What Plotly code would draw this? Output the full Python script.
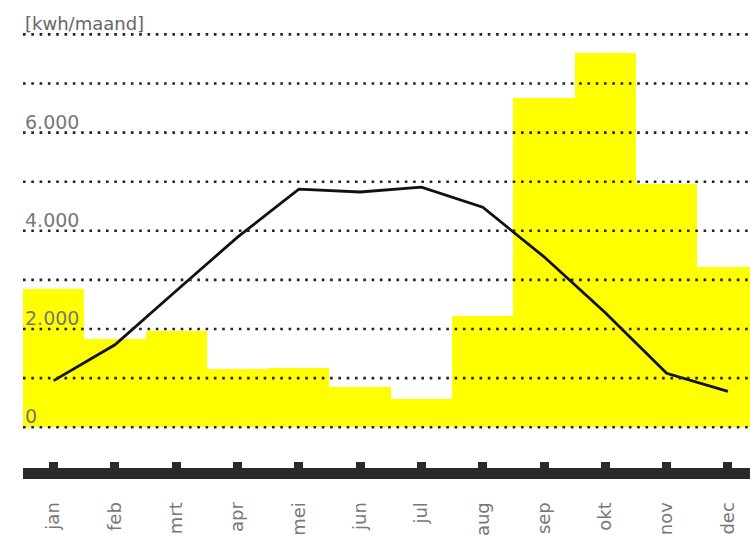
import plotly.graph_objects as go

months = ["jan", "feb", "mrt", "apr", "mei", "jun", "jul", "aug", "sep", "okt", "nov", "dec"]
bar_values = [2820, 1790, 1970, 1180, 1200, 810, 570, 2270, 6710, 7630, 4950, 3265]
line_values = [950, 1680, 2780, 3870, 4850, 4790, 4890, 4480, 3470, 2330, 1100, 730]
grid_values = [0, 1000, 2000, 3000, 4000, 5000, 6000, 7000, 8000]
label_values = [0, 2000, 4000, 6000]
label_texts = ["0", "2.000", "4.000", "6.000"]
unit_text = "[kwh/maand]"
unit_value = 8000
x_range = [-0.5, 11.36]
y_range = [-830, 8700]

fig = go.Figure()
fig.add_trace(go.Bar(x=months, y=bar_values, marker=dict(color="#ffff00", line=dict(width=0)),
                     width=1.0, showlegend=False, hoverinfo="skip"))
for v in grid_values:
    fig.add_trace(go.Scatter(x=[x_range[0], x_range[1]], y=[v, v], mode="lines",
                             line=dict(color="#222222", width=2.6, dash="2.6px,5.7px"),
                             showlegend=False, hoverinfo="skip", xaxis="x2"))
fig.add_trace(go.Scatter(x=months, y=line_values, mode="lines",
                         line=dict(color="#111111", width=2.8), showlegend=False))

for v, t in zip(label_values, label_texts):
    fig.add_annotation(x=0, xref="paper", y=v, yref="y", text=t, showarrow=False,
                       xanchor="left", yanchor="bottom", xshift=0, yshift=-2,
                       font=dict(family="DejaVu Sans", size=19, color="#777777"))
fig.add_annotation(x=0, xref="paper", y=unit_value, yref="y", text=unit_text, showarrow=False,
                   xanchor="left", yanchor="bottom", xshift=0, yshift=-2,
                   font=dict(family="DejaVu Sans", size=18, color="#666666"))

fig.update_layout(
    width=750, height=536,
    margin=dict(l=23, r=0, t=0, b=66),
    paper_bgcolor="white", plot_bgcolor="white",
    bargap=0,
    xaxis=dict(range=x_range, showgrid=False, zeroline=False,
               showline=True, linecolor="#2a2a2a", linewidth=11,
               ticks="inside", ticklen=6, tickwidth=9, tickcolor="#2a2a2a",
               tickangle=-90, tickfont=dict(family="DejaVu Sans", size=18, color="#777777"),
               ticklabelstandoff=16),
    xaxis2=dict(range=x_range, overlaying="x", visible=False),
    yaxis=dict(range=y_range, showgrid=False, zeroline=False, showticklabels=False,
               showline=False, ticks=""),
)

fig.write_html("out.html")
